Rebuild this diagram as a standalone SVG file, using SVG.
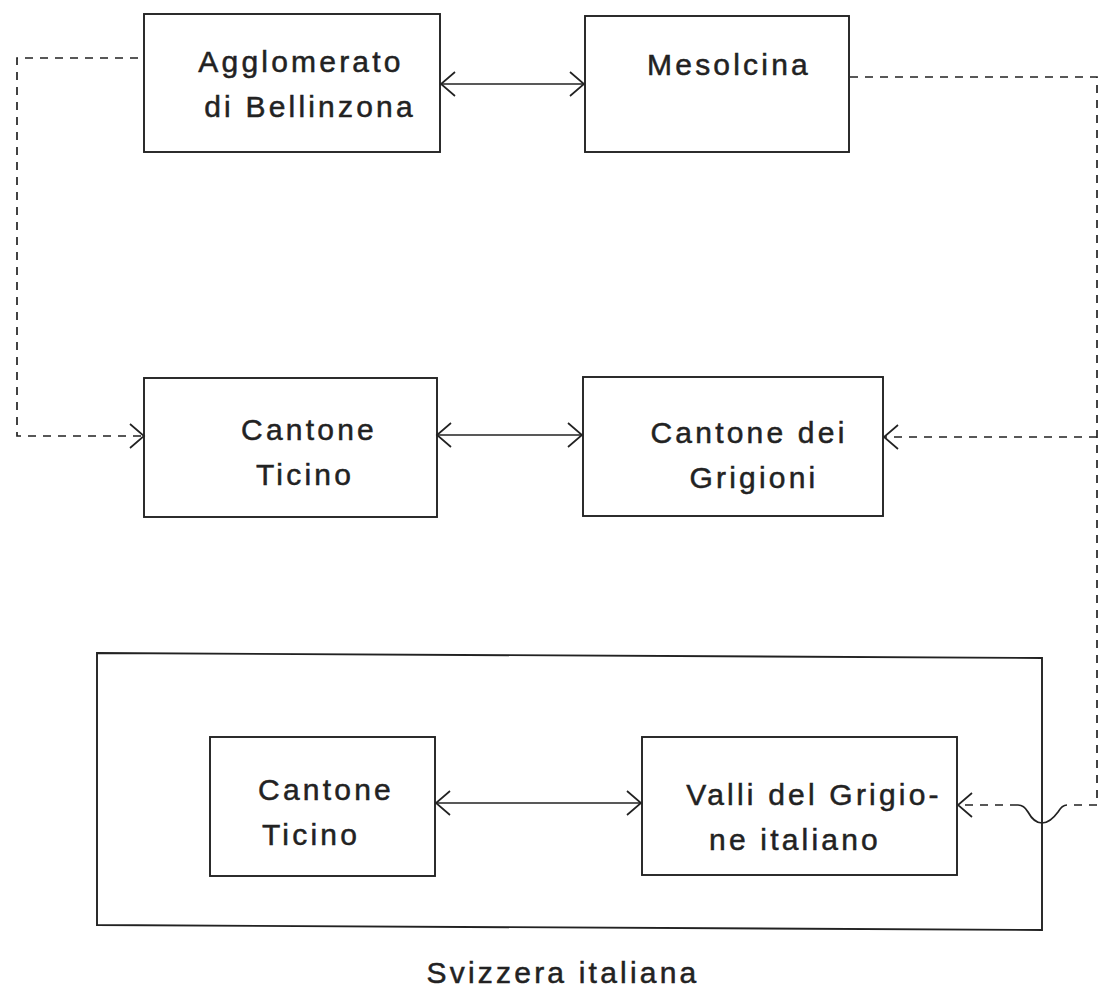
<svg xmlns="http://www.w3.org/2000/svg" width="1099" height="991" viewBox="0 0 1099 991">
  <style>
    .box { fill: none; stroke: #222; stroke-width: 1.9; }
    .lbl { font-family: "Liberation Sans", Arial, sans-serif; font-size: 30px; letter-spacing: 3.2px; fill: #222; stroke: #222; stroke-width: 0.5px; text-anchor: middle; }
    .solid { fill: none; stroke: #222; stroke-width: 1.7; }
    .dash { fill: none; stroke: #222; stroke-width: 1.7; stroke-dasharray: 8 7; }
  </style>
  <defs>
    <marker id="arr" markerUnits="userSpaceOnUse" markerWidth="30" markerHeight="30" refX="0" refY="0" viewBox="-16 -15 18 30" orient="auto-start-reverse">
      <path d="M -14 -12 L 0 0 L -14 12" fill="none" stroke="#222" stroke-width="1.7"/>
    </marker>
  </defs>
  <rect width="1099" height="991" fill="#fff"/>

  <g id="connectors">
    <line class="solid" x1="441" y1="84" x2="584" y2="84" marker-start="url(#arr)" marker-end="url(#arr)"/>
    <line class="solid" x1="437" y1="435" x2="582" y2="435" marker-start="url(#arr)" marker-end="url(#arr)"/>
    <line class="solid" x1="436" y1="803" x2="641" y2="803" marker-start="url(#arr)" marker-end="url(#arr)"/>
    <path class="dash" d="M 138 58 L 17 58 L 17 436 L 144 436" marker-end="url(#arr)"/>
    <path class="dash" d="M 850 77 L 1097 77 L 1097 805 L 1067 805"/>
    <path class="dash" d="M 1097 437 L 884 437" marker-end="url(#arr)"/>
    <path class="solid" d="M 1067 805 Q 1062 805 1058 812 Q 1050 823 1042 823 Q 1034 823 1028 812 Q 1024 805 1018 805"/>
    <path class="dash" d="M 1018 805 L 958 805" marker-end="url(#arr)"/>
  </g>

  <g id="agglomerato">
    <rect class="box" x="144" y="14" width="296" height="138"/>
    <text class="lbl" x="301" y="72">Agglomerato</text>
    <text class="lbl" x="310" y="117">di Bellinzona</text>
  </g>
  <g id="mesolcina">
    <rect class="box" x="585" y="16" width="264" height="136"/>
    <text class="lbl" x="729" y="75">Mesolcina</text>
  </g>
  <g id="ticino1">
    <rect class="box" x="144" y="378" width="293" height="139"/>
    <text class="lbl" x="309" y="440">Cantone</text>
    <text class="lbl" x="305" y="485">Ticino</text>
  </g>
  <g id="grigioni">
    <rect class="box" x="583" y="377" width="300" height="139"/>
    <text class="lbl" x="749" y="443">Cantone dei</text>
    <text class="lbl" x="754" y="488">Grigioni</text>
  </g>
  <g id="svizzera">
    <path class="box" d="M 97 653 L 1042 658 L 1042 930 L 97 925 Z"/>
    <text class="lbl" x="563" y="983">Svizzera italiana</text>
  </g>
  <g id="ticino2">
    <rect class="box" x="210" y="737" width="225" height="139"/>
    <text class="lbl" x="326" y="800">Cantone</text>
    <text class="lbl" x="311" y="845">Ticino</text>
  </g>
  <g id="valli">
    <rect class="box" x="642" y="737" width="315" height="138"/>
    <text class="lbl" x="814" y="805">Valli del Grigio-</text>
    <text class="lbl" x="795" y="850">ne italiano</text>
  </g>
</svg>
